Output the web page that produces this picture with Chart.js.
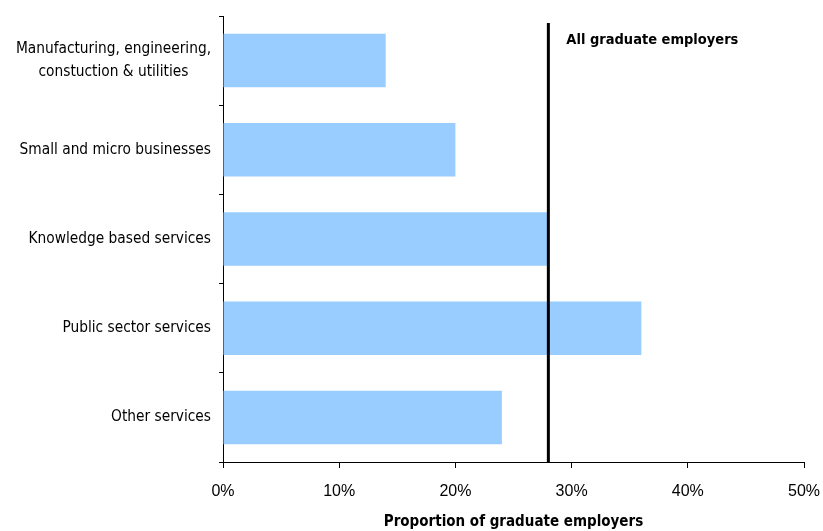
<!DOCTYPE html>
<html>
<head>
<meta charset="utf-8">
<script src="https://cdn.jsdelivr.net/npm/chart.js@4"></script>
<style>
  body { margin: 0; background: #fff; }
</style>
</head>
<body>
<canvas id="myChart" width="823" height="531"></canvas>
<script>
const sectors = [
  ['Manufacturing, engineering,', 'constuction & utilities'],
  'Small and micro businesses',
  'Knowledge based services',
  'Public sector services',
  'Other services'
];
const shares = [14, 20, 28, 36, 24];
const allEmployers = 28;
const allEmployersLabel = 'All graduate employers';
const xTicks = [0, 10, 20, 30, 40, 50];

const FONT = '"DejaVu Sans Condensed", "DejaVu Sans", sans-serif';
const TICK_FONT = '"Liberation Sans", Arial, sans-serif';

// category labels: block right aligned next to the axis, lines centred inside it
const sectorLabels = {
  id: 'sectorLabels',
  afterDraw(chart) {
    const ctx = chart.ctx;
    const y = chart.scales.y;
    ctx.save();
    ctx.font = '15.3px ' + FONT;
    ctx.fillStyle = '#000';
    ctx.textBaseline = 'middle';
    ctx.textAlign = 'center';
    sectors.forEach((lab, i) => {
      const lines = Array.isArray(lab) ? lab : [lab];
      const w = Math.max(...lines.map(l => ctx.measureText(l).width));
      const cx = y.right - 12 - w / 2;
      const cy = y.getPixelForValue(i);
      const lh = 23;
      lines.forEach((l, j) => {
        ctx.fillText(l, cx, cy + (j - (lines.length - 1) / 2) * lh);
      });
    });
    ctx.restore();
  }
};

// reference line for all graduate employers
const refLine = {
  id: 'refLine',
  afterDatasetsDraw(chart) {
    const ctx = chart.ctx;
    const x = chart.scales.x.getPixelForValue(allEmployers);
    const area = chart.chartArea;
    ctx.save();
    ctx.strokeStyle = '#000';
    ctx.lineWidth = 3;
    ctx.beginPath();
    ctx.moveTo(x, area.top + 7);
    ctx.lineTo(x, area.bottom);
    ctx.stroke();
    ctx.font = 'bold 14.5px ' + FONT;
    ctx.fillStyle = '#000';
    ctx.textBaseline = 'middle';
    ctx.textAlign = 'left';
    ctx.fillText(allEmployersLabel, x + 18, area.top + 24);
    ctx.restore();
  }
};

const config = {
  type: 'bar',
  data: {
    labels: sectors,
    datasets: [{
      data: shares,
      backgroundColor: '#99ccff',
      borderWidth: 0,
      barPercentage: 0.6,
      categoryPercentage: 1
    }]
  },
  options: {
    indexAxis: 'y',
    responsive: false,
    animation: false,
    layout: { padding: { top: 16, right: 19, left: 0, bottom: 0 } },
    plugins: {
      legend: { display: false },
      tooltip: { enabled: false }
    },
    scales: {
      y: {
        type: 'category',
        ticks: { display: false },
        grid: { drawOnChartArea: false, tickLength: 4, color: '#000', offset: true },
        border: { color: '#000', width: 1 },
        afterFit: s => { s.width = 223; }
      },
      x: {
        min: 0,
        max: 50,
        afterBuildTicks: s => { s.ticks = xTicks.map(v => ({ value: v })); },
        ticks: {
          callback: v => v + '%',
          color: '#000',
          font: { family: TICK_FONT, size: 16 },
          padding: 14
        },
        grid: { drawOnChartArea: false, tickLength: 6, color: '#000' },
        border: { color: '#000', width: 1 },
        title: {
          display: true,
          text: 'Proportion of graduate employers',
          color: '#000',
          font: { family: FONT, size: 15, weight: 'bold' },
          padding: { top: 6, bottom: 0 }
        },
        afterFit: s => {
          s.height = 69;
          s.paddingLeft = 0;
          s.paddingRight = 0;
        }
      }
    }
  },
  plugins: [refLine, sectorLabels]
};

var myChart = new Chart(document.getElementById('myChart'), config);
</script>
</body>
</html>
